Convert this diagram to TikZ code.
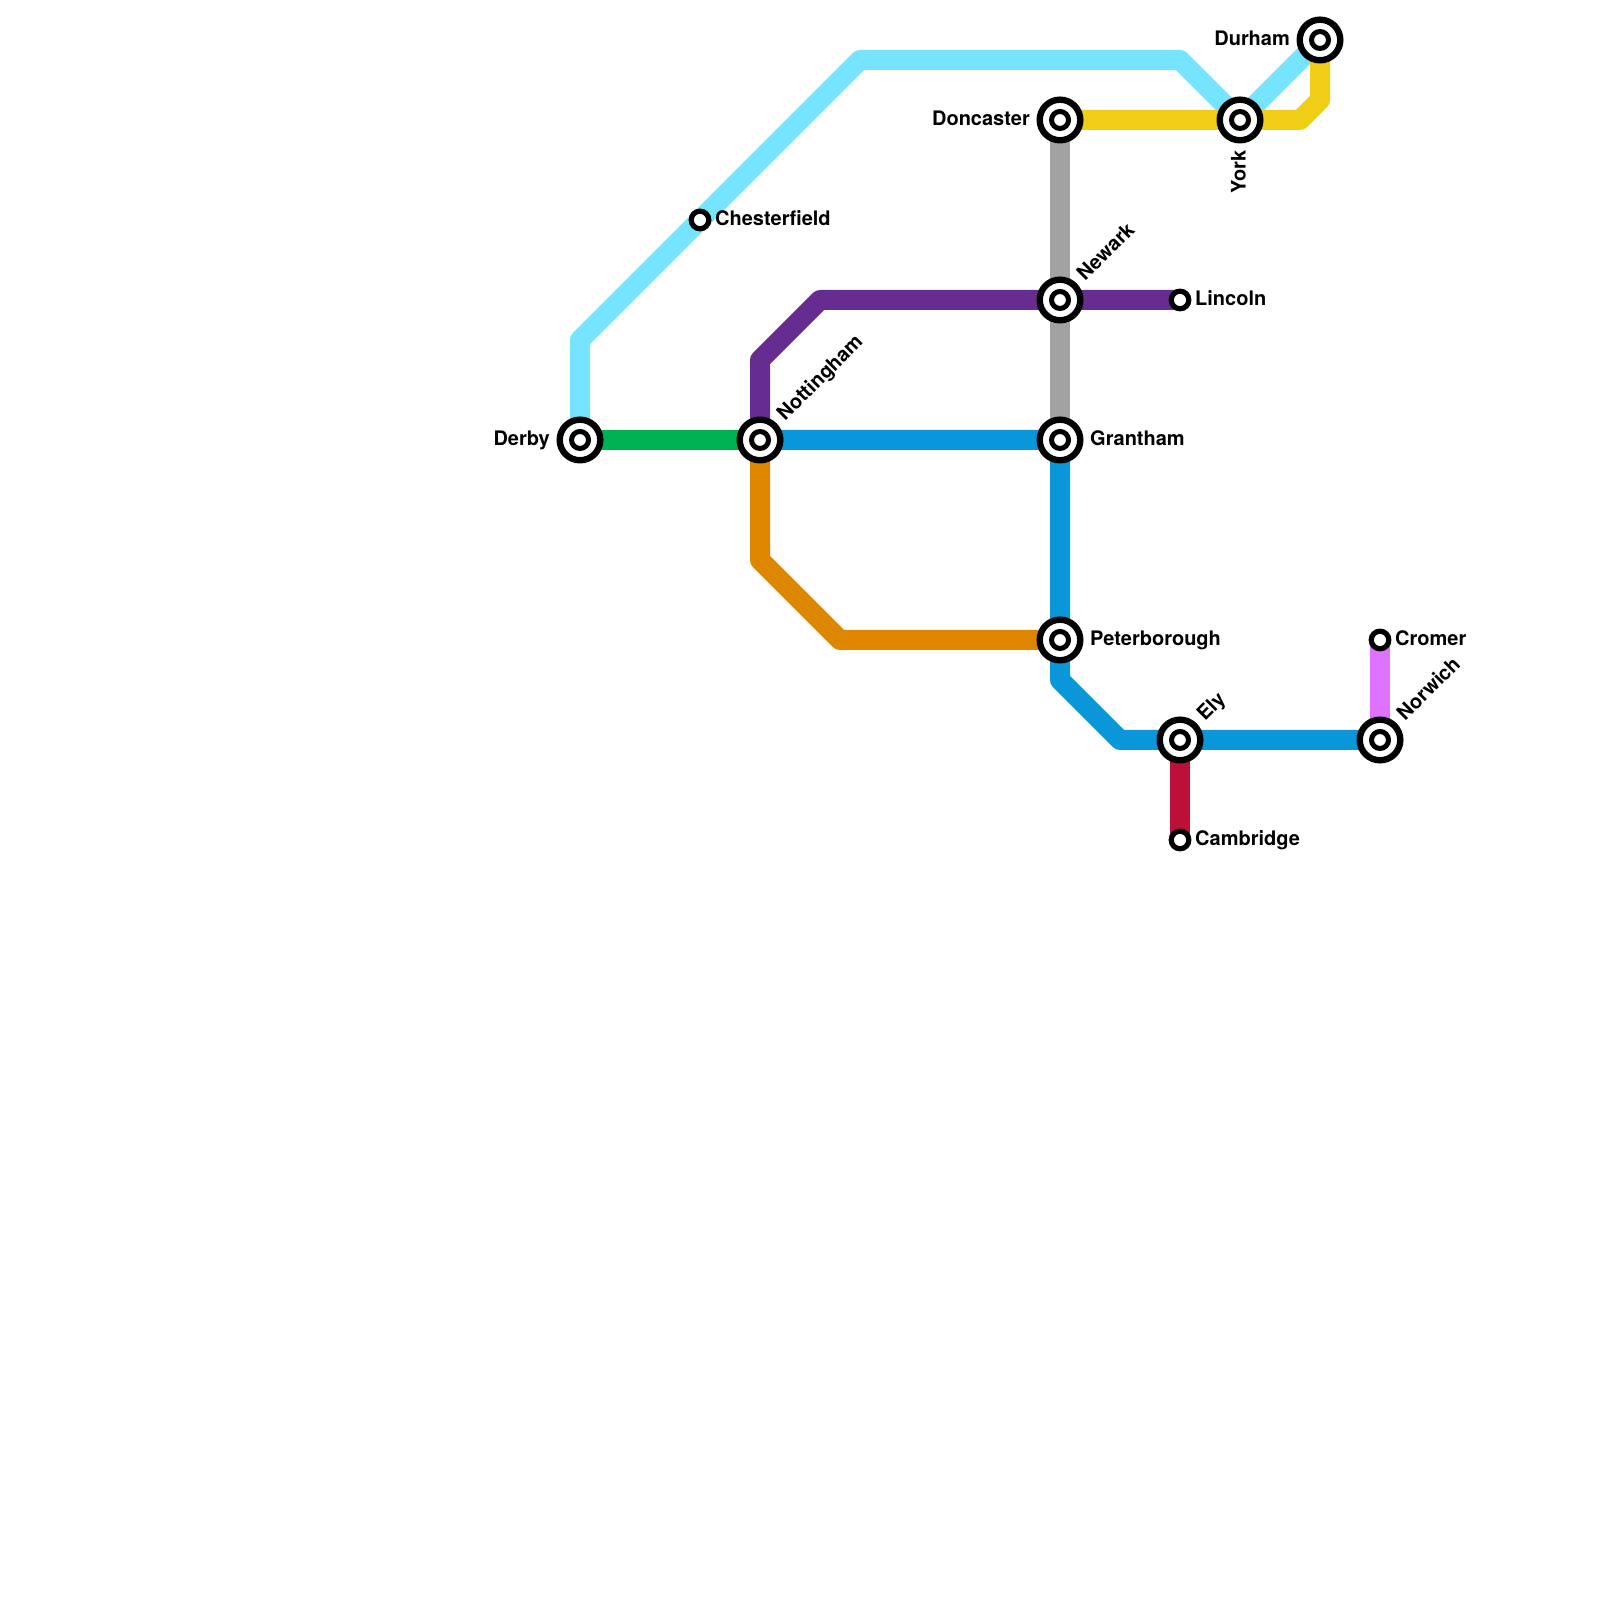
\documentclass[tikz,border=0pt]{standalone}
\usepackage{fontspec}
\setmainfont{TeX Gyre Heros}
\usetikzlibrary{backgrounds}

\definecolor{lineSky}{HTML}{76E3FF}
\definecolor{lineGreen}{HTML}{00B251}
\definecolor{lineBlue}{HTML}{0A97D9}
\definecolor{lineOrange}{HTML}{DF8600}
\definecolor{linePurple}{HTML}{662C90}
\definecolor{lineGrey}{HTML}{A2A2A2}
\definecolor{lineYellow}{HTML}{F0CE15}
\definecolor{lineCrimson}{HTML}{BD1038}
\definecolor{lineViolet}{HTML}{DF73FF}

\begin{document}
\begin{tikzpicture}[
    x=20pt, y=20pt,
    railway/.style={line width=20pt, line join=round},
    stop/.style={circle, draw=black, fill=white, line width=5.2pt, minimum size=17.6pt, inner sep=0pt, outer sep=0pt},
    interchange/.style={circle, draw=black, fill=white, line width=6.4pt, minimum size=40.6pt, inner sep=0pt, outer sep=0pt,
        path picture={\draw[line width=5pt] (path picture bounding box.center) circle (8.5pt);}},
    place/.style={font=\fontsize{20pt}{24pt}\selectfont\bfseries, inner sep=0pt, text=black}
]

    \useasboundingbox (0,0) rectangle (80,80);

    % Stations
    \node[interchange] (derby) at (29,58) {};
    \node[interchange] (nottingham) at (38,58) {};
    \node[interchange] (grantham) at (53,58) {};
    \node[interchange] (peterborough) at (53,48) {};
    \node[interchange] (ely) at (59,43) {};
    \node[interchange] (norwich) at (69,43) {};
    \node[interchange] (newark) at (53,65) {};
    \node[interchange] (doncaster) at (53,74) {};
    \node[interchange] (york) at (62,74) {};
    \node[interchange] (durham) at (66,78) {};
    \node[stop] (chesterfield) at (35,69) {};
    \node[stop] (lincoln) at (59,65) {};
    \node[stop] (cromer) at (69,48) {};
    \node[stop] (cambridge) at (59,38) {};

    % Bends of the lines
    \coordinate (skyA) at (29,63);
    \coordinate (skyB) at (43,77);
    \coordinate (skyC) at (59,77);
    \coordinate (purpleA) at (38,62);
    \coordinate (purpleB) at (41,65);
    \coordinate (orangeA) at (38,52);
    \coordinate (orangeB) at (42,48);
    \coordinate (blueA) at (53,46);
    \coordinate (blueB) at (56,43);
    \coordinate (yellowA) at (65,74);
    \coordinate (yellowB) at (66,75);

    % Lines
    \begin{scope}[on background layer]
        \draw[railway, lineSky] (derby.center) -- (skyA) -- (chesterfield.center) -- (skyB) -- (skyC) -- (york.center) -- (durham.center);
        \draw[railway, lineGrey] (doncaster.center) -- (newark.center) -- (grantham.center);
        \draw[railway, lineGreen] (derby.center) -- (nottingham.center);
        \draw[railway, linePurple] (nottingham.center) -- (purpleA) -- (purpleB) -- (newark.center) -- (lincoln.center);
        \draw[railway, lineOrange] (nottingham.center) -- (orangeA) -- (orangeB) -- (peterborough.center);
        \draw[railway, lineBlue] (nottingham.center) -- (grantham.center) -- (peterborough.center) -- (blueA) -- (blueB) -- (ely.center) -- (norwich.center);
        \draw[railway, lineYellow] (doncaster.center) -- (york.center) -- (yellowA) -- (yellowB) -- (durham.center);
        \draw[railway, lineCrimson] (ely.center) -- (cambridge.center);
        \draw[railway, lineViolet] (norwich.center) -- (cromer.center);
    \end{scope}

    % Names
    \node[place, anchor=base east] (derbyName) at ([shift={(-1.5,-0.28)}] derby.center) {Derby};
    \node[place, anchor=base east] (doncasterName) at ([shift={(-1.5,-0.28)}] doncaster.center) {Doncaster};
    \node[place, anchor=base east] (durhamName) at ([shift={(-1.5,-0.28)}] durham.center) {Durham};
    \node[place, anchor=base west] (granthamName) at ([shift={(1.5,-0.28)}] grantham.center) {Grantham};
    \node[place, anchor=base west] (peterboroughName) at ([shift={(1.5,-0.28)}] peterborough.center) {Peterborough};
    \node[place, anchor=base west] (chesterfieldName) at ([shift={(0.75,-0.28)}] chesterfield.center) {Chesterfield};
    \node[place, anchor=base west] (lincolnName) at ([shift={(0.75,-0.28)}] lincoln.center) {Lincoln};
    \node[place, anchor=base west] (cromerName) at ([shift={(0.75,-0.28)}] cromer.center) {Cromer};
    \node[place, anchor=base west] (cambridgeName) at ([shift={(0.75,-0.28)}] cambridge.center) {Cambridge};
    \node[place, anchor=base west, rotate=45] (nottinghamName) at ([shift={(1.25,0.9)}] nottingham.center) {Nottingham};
    \node[place, anchor=base west, rotate=45] (newarkName) at ([shift={(1.25,0.9)}] newark.center) {Newark};
    \node[place, anchor=base west, rotate=45] (elyName) at ([shift={(1.25,0.9)}] ely.center) {Ely};
    \node[place, anchor=base west, rotate=45] (norwichName) at ([shift={(1.25,0.9)}] norwich.center) {Norwich};
    \node[place, anchor=base east, rotate=90] (yorkName) at ([shift={(0.28,-1.5)}] york.center) {York};

\end{tikzpicture}
\end{document}
